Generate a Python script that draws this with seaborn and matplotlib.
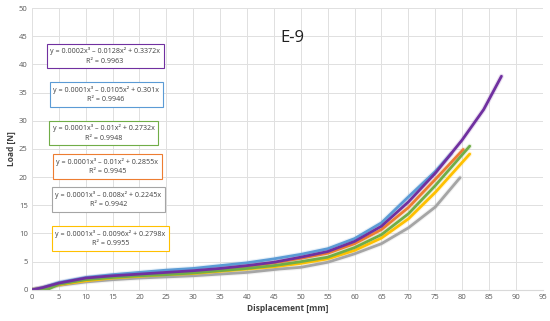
import pandas as pd
import numpy as np
import matplotlib
matplotlib.use('Agg')
import matplotlib.pyplot as plt
import seaborn as sns

# Load-displacement curves (x in mm, y in N)
gray_x = [0, 2, 5, 10, 15, 20, 25, 30, 35, 40, 46, 50, 55, 60, 65, 70, 75, 79.6]
gray_y = [0, 0.3, 0.8, 1.4, 1.8, 2.1, 2.3, 2.5, 2.8, 3.1, 3.7, 4.0, 4.9, 6.4, 8.2, 11.0, 14.7, 19.9]

yellow_x = [0, 2, 5, 10, 15, 20, 25, 30, 35, 40, 45, 50, 55, 60, 65, 70, 75, 81.4]
yellow_y = [0, 0.3, 0.9, 1.6, 2.1, 2.4, 2.7, 2.9, 3.3, 3.7, 4.1, 4.7, 5.5, 7.0, 9.2, 12.6, 17.3, 24.1]

orange_x = [0, 2, 5, 10, 15, 20, 25, 30, 35, 40, 45, 50, 55, 60, 65, 70, 75, 80.2]
orange_y = [0, 0.3, 1.0, 1.9, 2.4, 2.7, 3.0, 3.3, 3.7, 4.2, 4.8, 5.6, 6.5, 8.2, 10.7, 14.6, 19.6, 24.9]

blue_x = [0, 2, 5, 10, 15, 20, 25, 30, 35, 40, 45, 50, 55, 60, 65, 70, 75, 78]
blue_y = [0, 0.4, 1.3, 2.2, 2.7, 3.1, 3.5, 3.8, 4.3, 4.8, 5.5, 6.3, 7.3, 9.1, 11.9, 16.5, 21.0, 24.2]

green_x = [0, 3, 5, 10, 15, 20, 25, 30, 35, 40, 45, 50, 55, 60, 65, 70, 75, 81.4]
green_y = [0, 0.1, 1.0, 1.8, 2.2, 2.5, 2.7, 3.0, 3.4, 3.8, 4.3, 5.0, 5.8, 7.5, 9.8, 13.5, 18.5, 25.5]

purple_x = [0, 2, 5, 10, 15, 20, 25, 30, 35, 40, 45, 50, 55, 60, 65, 70, 75, 80, 84, 87.3]
purple_y = [0, 0.4, 1.2, 2.1, 2.5, 2.8, 3.1, 3.4, 3.8, 4.3, 4.9, 5.8, 6.8, 8.6, 11.3, 15.6, 20.7, 26.6, 32.0, 37.9]

series = ['gray', 'yellow', 'orange', 'blue', 'green', 'purple']
colors = {'gray': '#A5A5A5', 'yellow': '#FFC000', 'orange': '#ED7D31',
          'blue': '#5B9BD5', 'green': '#70AD47', 'purple': '#7030A0'}
xs = [gray_x, yellow_x, orange_x, blue_x, green_x, purple_x]
ys = [gray_y, yellow_y, orange_y, blue_y, green_y, purple_y]

# trendline labels, top to bottom as in the chart
eq_series = ['purple', 'blue', 'green', 'orange', 'gray', 'yellow']
eq_text = ['y = 0.0002x³ – 0.0128x² + 0.3372x\nR² = 0.9963',
           'y = 0.0001x³ – 0.0105x² + 0.301x\nR² = 0.9946',
           'y = 0.0001x³ – 0.01x² + 0.2732x\nR² = 0.9948',
           'y = 0.0001x³ – 0.01x² + 0.2855x\nR² = 0.9945',
           'y = 0.0001x³ – 0.008x² + 0.2245x\nR² = 0.9942',
           'y = 0.0001x³ – 0.0096x² + 0.2798x\nR² = 0.9955']
eq_x = [13.6, 13.8, 13.4, 14.0, 14.2, 14.6]
eq_y = [41.5, 34.7, 27.8, 21.9, 16.0, 9.1]

df = pd.concat([pd.DataFrame({'x': x, 'y': y, 'test': s}) for s, x, y in zip(series, xs, ys)],
               ignore_index=True)

sns.set_style('white')
plt.rcParams['font.family'] = ['Open Sans', 'DejaVu Sans']

fig = plt.figure(figsize=(5.5, 3.21), dpi=100)
ax = fig.add_axes([0.058, 0.097, 0.929, 0.878])

# faint halo under each curve (trendline look)
sns.lineplot(data=df, x='x', y='y', hue='test', hue_order=series, palette=colors,
             estimator=None, linewidth=3.6, alpha=0.15, legend=False, ax=ax)
sns.lineplot(data=df, x='x', y='y', hue='test', hue_order=series, palette=colors,
             estimator=None, linewidth=2.0, legend=False, ax=ax)

ax.set_xlim(0, 95)
ax.set_ylim(0, 50)
ax.set_xticks(np.arange(0, 96, 5))
ax.set_yticks(np.arange(0, 51, 5))
ax.grid(True, color='#E0E0E0', linewidth=0.7)
ax.set_axisbelow(True)
for side in ['top', 'right', 'left']:
    ax.spines[side].set_visible(False)
ax.spines['bottom'].set_color('#D9D9D9')
ax.tick_params(axis='both', labelsize=5.5, colors='#595959', length=0, pad=3)

ax.set_xlabel('Displacement [mm]', fontsize=6, fontweight='bold', color='#404040', labelpad=2)
ax.set_ylabel('Load [N]', fontsize=6, fontweight='bold', color='#404040', labelpad=2)

ax.text(48.5, 44.7, 'E-9', fontsize=12, ha='center', va='center', color='#202020')

for s, t, x, y in zip(eq_series, eq_text, eq_x, eq_y):
    ax.text(x, y, t, fontsize=5.1, ha='center', va='center', color='#404040', linespacing=1.5,
            bbox=dict(boxstyle='square,pad=0.5', fc='white', ec=colors[s], lw=0.8))

fig.savefig('out.png', dpi=100)
